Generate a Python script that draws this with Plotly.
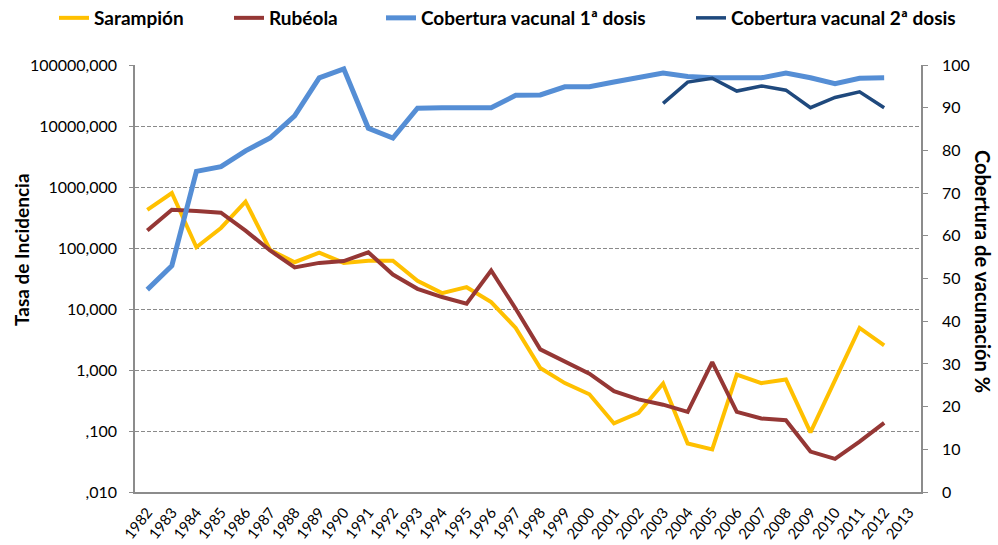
import plotly.graph_objects as go

years = [str(y) for y in range(1982, 2014)]

sarampion = [421, 798, 103, 213, 575, 93, 58.5, 84, 57, 62, 62, 29, 18.2, 22.8, 13, 4.9,
             1.08, 0.61, 0.40, 0.133, 0.198, 0.60, 0.0625, 0.050, 0.84, 0.61, 0.70, 0.095,
             0.68, 4.9, 2.54, None]
rubeola = [193, 425, 405, 380, 193, 91, 48, 57, 61, 85, 36.7, 21.4, 15.7, 12.2, 42.8, 10.1,
           2.18, 1.39, 0.87, 0.45, 0.33, 0.27, 0.206, 1.35, 0.206, 0.16, 0.15, 0.046,
           0.035, 0.067, 0.136, None]
cob1 = [47.4, 53.0, 75.1, 76.2, 79.9, 82.9, 88.1, 97.0, 99.1, 85.2, 82.9, 89.9, 90.0, 90.0,
        90.0, 92.9, 93.0, 94.9, 94.9, 96.0, 97.0, 98.1, 97.3, 97.0, 97.0, 97.0, 98.1, 97.0,
        95.6, 96.9, 97.0, None]
cob2 = [None] * 21 + [91.0, 96.0, 96.9, 93.9, 95.1, 94.1, 90.0, 92.4, 93.7, 90.0, None]

left_tickvals = [0.01, 0.1, 1, 10, 100, 1000, 10000, 100000]
left_ticktext = [",010", ",100", "1,000", "10,000", "100,000", "1000,000", "10000,000", "100000,000"]

FONT = "Lato"
GRAY = "#8c8c8c"
PL, PR, PT, PB = 135, 921, 65, 492
PW, PH = PR - PL, PB - PT

fig = go.Figure()
fig.add_trace(go.Scatter(x=years, y=sarampion, name="Sarampión", mode="lines",
                         line=dict(color="#FFC000", width=4), legend="legend"))
fig.add_trace(go.Scatter(x=years, y=rubeola, name="Rubéola", mode="lines",
                         line=dict(color="#953735", width=4), legend="legend2"))
fig.add_trace(go.Scatter(x=years, y=cob1, name="Cobertura vacunal 1ª dosis", mode="lines",
                         line=dict(color="#558ED5", width=5), yaxis="y2", legend="legend3"))
fig.add_trace(go.Scatter(x=years, y=cob2, name="Cobertura vacunal 2ª dosis", mode="lines",
                         line=dict(color="#1F497D", width=3.5), yaxis="y2", legend="legend4"))

def leg(xpx):
    return dict(xref="container", yref="container", x=xpx / 998, y=1 - 18 / 545,
                xanchor="left", yanchor="middle", orientation="h", bgcolor="rgba(0,0,0,0)",
                font=dict(family=FONT, size=19, color="#000", weight="bold"),
                borderwidth=0, itemwidth=30)

fig.update_layout(
    width=998, height=545,
    showlegend=True,
    margin=dict(l=PL, r=998 - PR, t=PT, b=545 - PB, autoexpand=False),
    paper_bgcolor="white", plot_bgcolor="white",
    font=dict(family=FONT, size=15, color="#000"),
    legend=leg(54), legend2=leg(229), legend3=leg(381), legend4=leg(691),
    xaxis=dict(type="category", categoryorder="array", categoryarray=years,
               range=[-0.5, 31.5], showline=True, linecolor=GRAY, linewidth=1.5,
               showgrid=False, ticks="", tickangle=-52, tickfont=dict(size=15),
               ticklabelstandoff=4, automargin=False),
    yaxis=dict(type="log", range=[-2, 5], tickvals=left_tickvals, ticktext=left_ticktext,
               showline=True, linecolor=GRAY, linewidth=1.5, ticks="outside", ticklen=4,
               tickcolor=GRAY, showgrid=True, gridcolor="#8a8a8a", griddash="4px,2px",
               gridwidth=1, tickfont=dict(size=16), ticklabelstandoff=9, zeroline=False,
               automargin=False),
    yaxis2=dict(overlaying="y", side="right", range=[0, 100], dtick=10, showline=True,
                linecolor=GRAY, linewidth=1.5, ticks="outside", ticklen=5, tickcolor=GRAY,
                showgrid=False, zeroline=False, tickfont=dict(size=16), ticklabelstandoff=11,
                automargin=False),
    annotations=[
        dict(text="<b>Tasa de Incidencia</b>", xref="paper", yref="paper",
             x=(21 - PL) / PW, y=(PB - 250) / PH,
             textangle=-90, showarrow=False, xanchor="center", yanchor="middle",
             font=dict(family=FONT, size=19, color="#000")),
        dict(text="<b>Cobertura de vacunación %</b>", xref="paper", yref="paper",
             x=(983 - PL) / PW, y=(PB - 271) / PH, textangle=90, showarrow=False,
             xanchor="center", yanchor="middle",
             font=dict(family=FONT, size=20, color="#000")),
    ],
)

fig.write_html("out.html", config={"displayModeBar": False},
               post_script="document.body.style.margin='0';document.body.style.padding='0';")
